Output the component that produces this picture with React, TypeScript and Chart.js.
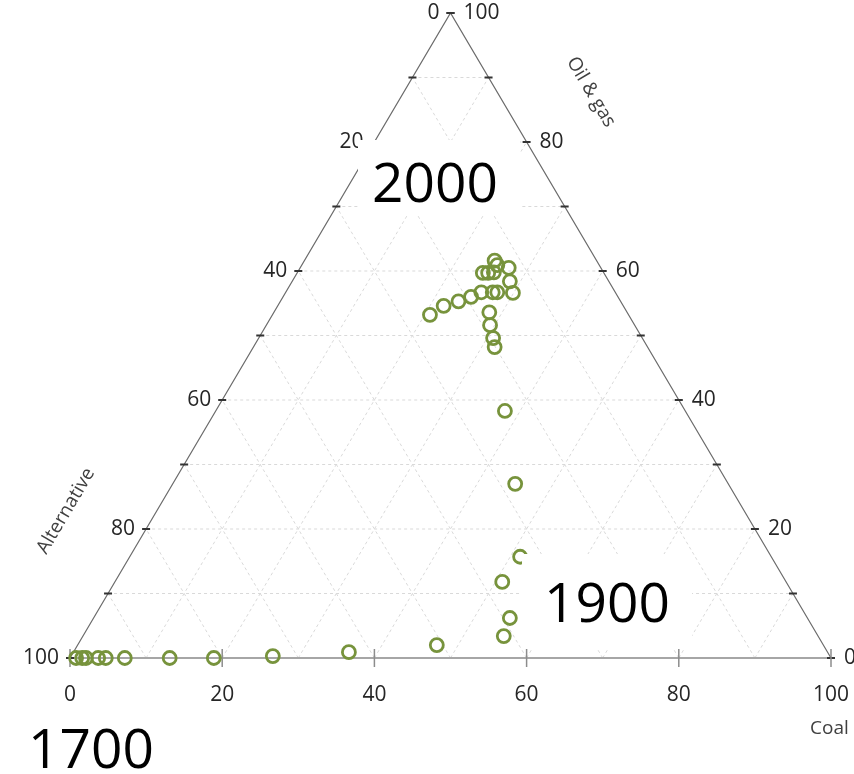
import React, { useEffect, useRef } from "react";
import { Chart, registerables } from "chart.js";

Chart.register(...registerables);

// Ternary composition (percent), roughly chronological
const coal = [0.8, 1.6, 2.1, 3.7, 4.7, 7.2, 13.1, 18.9, 26.5, 36.2, 47.2, 55.3, 54.7, 50.9, 51.3, 45.0, 38.0, 31.7, 30.8, 29.4, 28.3, 27.2, 27.8, 29.9, 28.6, 27.4, 25.7, 25.0, 25.8, 25.1, 24.4, 25.7, 24.7, 23.4, 21.8, 20.7];
const oilGas = [0, 0, 0, 0, 0, 0, 0, 0, 0.3, 0.9, 2.0, 3.4, 6.2, 11.8, 15.7, 27.0, 38.3, 48.2, 49.6, 51.6, 53.6, 56.7, 56.7, 56.6, 58.4, 60.5, 60.9, 61.6, 59.8, 59.7, 59.7, 56.7, 56.0, 55.3, 54.6, 53.2];
const alternative = [99.2, 98.4, 97.9, 96.3, 95.3, 92.8, 86.9, 81.1, 73.2, 62.9, 50.8, 41.3, 39.1, 37.3, 33.0, 28.0, 23.7, 20.1, 19.6, 19.0, 18.1, 16.1, 15.5, 13.5, 13.0, 12.1, 13.4, 13.4, 14.4, 15.2, 15.9, 17.6, 19.3, 21.3, 23.6, 26.1];

const tickValues = [0, 20, 40, 60, 80, 100];
const minorTicks = [10, 20, 30, 40, 50, 60, 70, 80, 90];
const axisTitles = { bottom: "Coal", left: "Alternative", right: "Oil & gas" };
const yearLabels = ["1700", "1900", "2000"];

const FONT = "'Open Sans', 'Noto Sans', sans-serif";

const ternaryPlugin = {
  id: "ternary",
  beforeDatasetsDraw(chart: any) {
    const { ctx } = chart;
    const xs = chart.scales.x;
    const ys = chart.scales.y;
    const P = (x: number, y: number) => [xs.getPixelForValue(x), ys.getPixelForValue(y)];
    ctx.save();
    // grid
    ctx.strokeStyle = "#d9d9d9";
    ctx.lineWidth = 1;
    ctx.setLineDash([3, 3]);
    for (const k of minorTicks) {
      const lines = [
        [P(k / 2, k), P(100 - k / 2, k)],
        [P(k, 0), P(k + (100 - k) / 2, 100 - k)],
        [P(100 - k, 0), P((100 - k) / 2, 100 - k)],
      ];
      for (const [a, b] of lines) {
        ctx.beginPath();
        ctx.moveTo(a[0], a[1]);
        ctx.lineTo(b[0], b[1]);
        ctx.stroke();
      }
    }
    ctx.setLineDash([]);
    const bl = P(0, 0), br = P(100, 0), top = P(50, 100);
    // left & right edges
    ctx.strokeStyle = "#6b6b6b";
    ctx.lineWidth = 1.2;
    ctx.beginPath();
    ctx.moveTo(bl[0], bl[1]);
    ctx.lineTo(top[0], top[1]);
    ctx.lineTo(br[0], br[1]);
    ctx.stroke();
    // bottom edge
    ctx.strokeStyle = "#a6a6a6";
    ctx.lineWidth = 2;
    ctx.beginPath();
    ctx.moveTo(bl[0], bl[1]);
    ctx.lineTo(br[0], br[1]);
    ctx.stroke();
    // left/right ticks
    ctx.strokeStyle = "#333";
    ctx.lineWidth = 2;
    for (const k of [0, ...minorTicks, 100]) {
      const l = P((100 - k) / 2, 100 - k);
      const r = P(100 - k / 2, k);
      ctx.beginPath();
      ctx.moveTo(l[0] - 4, l[1]);
      ctx.lineTo(l[0] + 4, l[1]);
      ctx.moveTo(r[0] - 4, r[1]);
      ctx.lineTo(r[0] + 4, r[1]);
      ctx.stroke();
    }
    // bottom ticks
    ctx.strokeStyle = "#8c8c8c";
    ctx.lineWidth = 1.5;
    for (const v of tickValues) {
      const b = P(v, 0);
      ctx.beginPath();
      ctx.moveTo(b[0], b[1] - 9);
      ctx.lineTo(b[0], b[1] + 9);
      ctx.stroke();
    }
    // tick labels
    ctx.fillStyle = "#262626";
    ctx.font = `21px ${FONT}`;
    ctx.textBaseline = "middle";
    for (const v of tickValues) {
      const l = P((100 - v) / 2, 100 - v);
      ctx.textAlign = "right";
      ctx.fillText(String(v), l[0] - 11, l[1]);
      const r = P(100 - v / 2, v);
      ctx.textAlign = "left";
      ctx.fillText(String(v), r[0] + 13, r[1]);
      const b = P(v, 0);
      ctx.textAlign = "center";
      ctx.fillText(String(v), b[0], b[1] + 37);
    }
    // axis titles
    ctx.fillStyle = "#404040";
    ctx.font = `19px ${FONT}`;
    ctx.textAlign = "left";
    ctx.fillText(axisTitles.bottom, br[0] - 21, br[1] + 71);
    const ang = Math.atan2(bl[1] - top[1], top[0] - bl[0]);
    ctx.save();
    ctx.translate(66, 511);
    ctx.rotate(-ang);
    ctx.textAlign = "center";
    ctx.fillText(axisTitles.left, 0, 0);
    ctx.restore();
    ctx.save();
    ctx.translate(591, 92);
    ctx.rotate(ang);
    ctx.textAlign = "center";
    ctx.fillText(axisTitles.right, 0, 0);
    ctx.restore();
    ctx.restore();
  },
  afterDatasetsDraw(chart: any) {
    const { ctx } = chart;
    ctx.save();
    ctx.fillStyle = "#ffffff";
    ctx.fillRect(358, 140, 162, 76);
    ctx.fillRect(522, 554, 170, 94);
    ctx.fillStyle = "#000000";
    ctx.font = `55px ${FONT}`;
    ctx.textAlign = "center";
    ctx.textBaseline = "middle";
    ctx.fillText(yearLabels[0], 91, 752);
    ctx.fillText(yearLabels[1], 607, 606);
    ctx.fillText(yearLabels[2], 435, 186);
    ctx.restore();
  },
};

export default function App() {
  const ref = useRef<HTMLCanvasElement>(null);
  useEffect(() => {
    if (!ref.current) return;
    const pts = coal.map((c, i) => {
      const s = c + oilGas[i] + alternative[i];
      return { x: ((c + oilGas[i] / 2) / s) * 100, y: (oilGas[i] / s) * 100 };
    });
    const chart = new Chart(ref.current, {
      type: "scatter",
      data: {
        datasets: [
          {
            data: pts,
            pointRadius: 6.5,
            pointBorderWidth: 2.8,
            borderColor: "#77933c",
            backgroundColor: "rgba(0,0,0,0)",
            pointHoverRadius: 6.5,
            clip: false as any,
          },
        ],
      },
      options: {
        animation: false,
        responsive: false,
        devicePixelRatio: 1,
        layout: { padding: { left: 70, right: 23, top: 13, bottom: 116 } },
        scales: {
          x: { type: "linear", min: 0, max: 100, display: false },
          y: { type: "linear", min: 0, max: 100, display: false },
        },
        plugins: { legend: { display: false }, tooltip: { enabled: false } },
      },
      plugins: [ternaryPlugin],
    });
    return () => chart.destroy();
  }, []);
  return (
    <div style={{ position: "absolute", left: 0, top: 0, width: 854, height: 774, background: "#fff" }}>
      <canvas ref={ref} width={854} height={774} />
    </div>
  );
}
